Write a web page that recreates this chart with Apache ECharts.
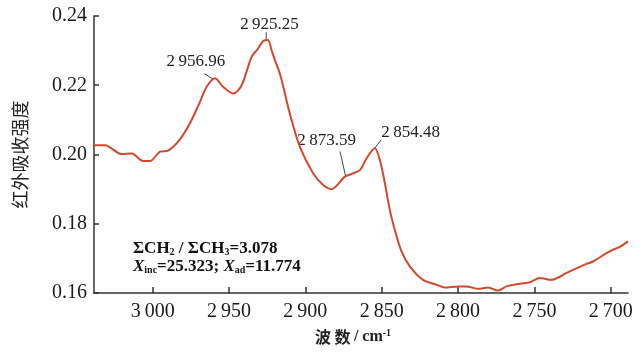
<!DOCTYPE html>
<html>
<head>
<meta charset="utf-8">
<script src="https://cdn.jsdelivr.net/npm/echarts@6/dist/echarts.min.js"></script>
<style>
html,body{margin:0;padding:0;background:#ffffff;}
#c{width:643px;height:352px;}
</style>
</head>
<body>
<div id="c"></div>
<script>
// ---- data ----
const wavenumbers = [3038.4, 3031.2, 3020.3, 3013.7, 3006.3, 3001.8, 2995.2, 2990.0, 2982.1, 2975.6,
  2969.0, 2964.7, 2959.2, 2953.8, 2947.2, 2941.7, 2935.2, 2930.9, 2927.6, 2924.5,
  2922.1, 2919.9, 2916.7, 2913.4, 2910.1, 2903.6, 2894.9, 2888.3, 2882.8, 2874.1,
  2869.7, 2864.3, 2859.9, 2854.5, 2851.2, 2847.9, 2844.7, 2841.4, 2837.0, 2831.6,
  2822.9, 2814.1, 2808.7, 2800.0, 2794.5, 2786.9, 2780.3, 2773.8, 2768.3, 2759.6,
  2753.0, 2746.5, 2738.8, 2729.0, 2715.9, 2711.6, 2703.9, 2698.5, 2694.1, 2688.7];
const absorbance = [0.2027, 0.2027, 0.2001, 0.2003, 0.1981, 0.1981, 0.2008, 0.2011, 0.2044, 0.2090,
  0.2152, 0.2195, 0.2220, 0.2195, 0.2176, 0.2200, 0.2282, 0.2306, 0.2328, 0.2331,
  0.2301, 0.2272, 0.2234, 0.2176, 0.2117, 0.2022, 0.1946, 0.1912, 0.1900, 0.1936,
  0.1944, 0.1955, 0.1989, 0.2018, 0.1984, 0.1917, 0.1840, 0.1782, 0.1720, 0.1677,
  0.1638, 0.1624, 0.1616, 0.1619, 0.1619, 0.1612, 0.1616, 0.1607, 0.1619, 0.1627,
  0.1631, 0.1643, 0.1638, 0.1658, 0.1684, 0.1691, 0.1712, 0.1725, 0.1733, 0.1749];
const xTicks = [3000, 2950, 2900, 2850, 2800, 2750, 2700];
const yTicks = [0.16, 0.18, 0.20, 0.22, 0.24];
const peakLabels = ['2\u2009956.96', '2\u2009925.25', '2\u2009873.59', '2\u2009854.48'];
const peakWave = [2960.4, 2925.6, 2873.6, 2855.3];
const peakValue = [0.2218, 0.2330, 0.1937, 0.2014];
const xAxisName = '波 数 / cm';
const yAxisName = '红外吸收强度';
const ratioText = ['ΣCH{sub|2} / ΣCH{sub|3}=3.078', '{it|X}{sub|inc}=25.323; {it|X}{sub|ad}=11.774'];

// ---- chart ----
const serif = "'Liberation Serif','Times New Roman',serif";
const cjk = "'Noto Sans CJK SC','Noto Sans',sans-serif";
const lineColor = '#d14a2e';
const axisColor = '#333333';

const chart = echarts.init(document.getElementById('c'), null, {renderer: 'canvas'});
const data = wavenumbers.map((w, i) => [w, absorbance[i]]);

chart.setOption({
  backgroundColor: '#ffffff',
  animation: false,
  grid: {left: 94, right: 15, top: 16, bottom: 59, containLabel: false, outerBoundsMode: 'none'},
  xAxis: {
    type: 'value',
    inverse: true,
    min: 2688.7,
    max: 3038.4,
    axisLine: {show: true, onZero: false, lineStyle: {color: axisColor, width: 1.5}},
    axisTick: {show: true, inside: true, length: 6, customValues: xTicks, lineStyle: {color: axisColor, width: 1.5}},
    axisLabel: {
      customValues: xTicks, margin: 9,
      fontFamily: serif, fontSize: 20, color: '#1a1a1a',
      formatter: v => String(Math.round(v)).replace(/^(\d)(\d{3})$/, '$1\u2009$2')
    },
    splitLine: {show: false}
  },
  yAxis: {
    type: 'value',
    min: 0.16, max: 0.24, interval: 0.02,
    name: yAxisName,
    nameLocation: 'middle',
    nameRotate: 90,
    nameGap: 65,
    nameTextStyle: {fontFamily: cjk, fontSize: 18, color: '#222'},
    axisLine: {show: true, lineStyle: {color: axisColor, width: 1.5}},
    axisTick: {show: true, inside: true, length: 5, customValues: yTicks, lineStyle: {color: axisColor, width: 1.5}},
    axisLabel: {
      customValues: yTicks, margin: 7,
      fontFamily: serif, fontSize: 20, color: '#1a1a1a',
      formatter: v => v.toFixed(2)
    },
    splitLine: {show: false}
  },
  series: [{
    type: 'line',
    data: data,
    showSymbol: false,
    symbol: 'none',
    smooth: 0.3,
    lineStyle: {color: lineColor, width: 2},
    silent: true
  }]
});

// annotation offsets (pixels) relative to the anchor point on the curve
const leaderEnd = [[-8.7, -5.3], [0, -8], [-5.7, -25], [7.7, -10]];
const labelCenter = [[-17.2, -17.1], [3.3, -16.2], [-19, -36], [37, -17]];

const graphics = [];
peakWave.forEach((w, i) => {
  const p = chart.convertToPixel({gridIndex: 0}, [w, peakValue[i]]);
  graphics.push({
    type: 'line', silent: true,
    shape: {x1: p[0], y1: p[1], x2: p[0] + leaderEnd[i][0], y2: p[1] + leaderEnd[i][1]},
    style: {stroke: '#444', lineWidth: 1}
  });
  graphics.push({
    type: 'text', silent: true,
    x: p[0] + labelCenter[i][0], y: p[1] + labelCenter[i][1],
    style: {text: peakLabels[i], fontFamily: serif, fontSize: 17, fill: '#222',
      align: 'center', verticalAlign: 'middle'}
  });
});

const richSub = {
  sub: {fontFamily: serif, fontSize: 10, fontWeight: 'bold', fill: '#111', verticalAlign: 'bottom', padding: [7, 0, 0, 0]},
  it: {fontFamily: serif, fontSize: 17, fontStyle: 'italic', fontWeight: 'bold', fill: '#111'}
};
graphics.push({
  type: 'text', silent: true, x: 133, y: 249,
  style: {text: ratioText[0], fontFamily: serif, fontSize: 17, fontWeight: 'bold', fill: '#111', verticalAlign: 'middle', rich: richSub}
});
graphics.push({
  type: 'text', silent: true, x: 133, y: 267,
  style: {text: ratioText[1], fontFamily: serif, fontSize: 17, fontWeight: 'bold', fill: '#111', verticalAlign: 'middle', rich: richSub}
});
graphics.push({
  type: 'text', silent: true, x: 353, y: 337,
  style: {
    text: '{cn|波 数} {r|/ ' + xAxisName.split('/ ')[1] + '}{sup|-1}',
    align: 'center', verticalAlign: 'middle',
    rich: {
      cn: {fontFamily: cjk, fontSize: 16, fontWeight: 'bold', fill: '#222'},
      r: {fontFamily: serif, fontSize: 16, fontWeight: 'bold', fill: '#222'},
      sup: {fontFamily: serif, fontSize: 10, fontWeight: 'bold', fill: '#222', verticalAlign: 'top', padding: [0, 0, 8, 0]}
    }
  }
});
chart.setOption({graphic: graphics});
</script>
</body>
</html>
